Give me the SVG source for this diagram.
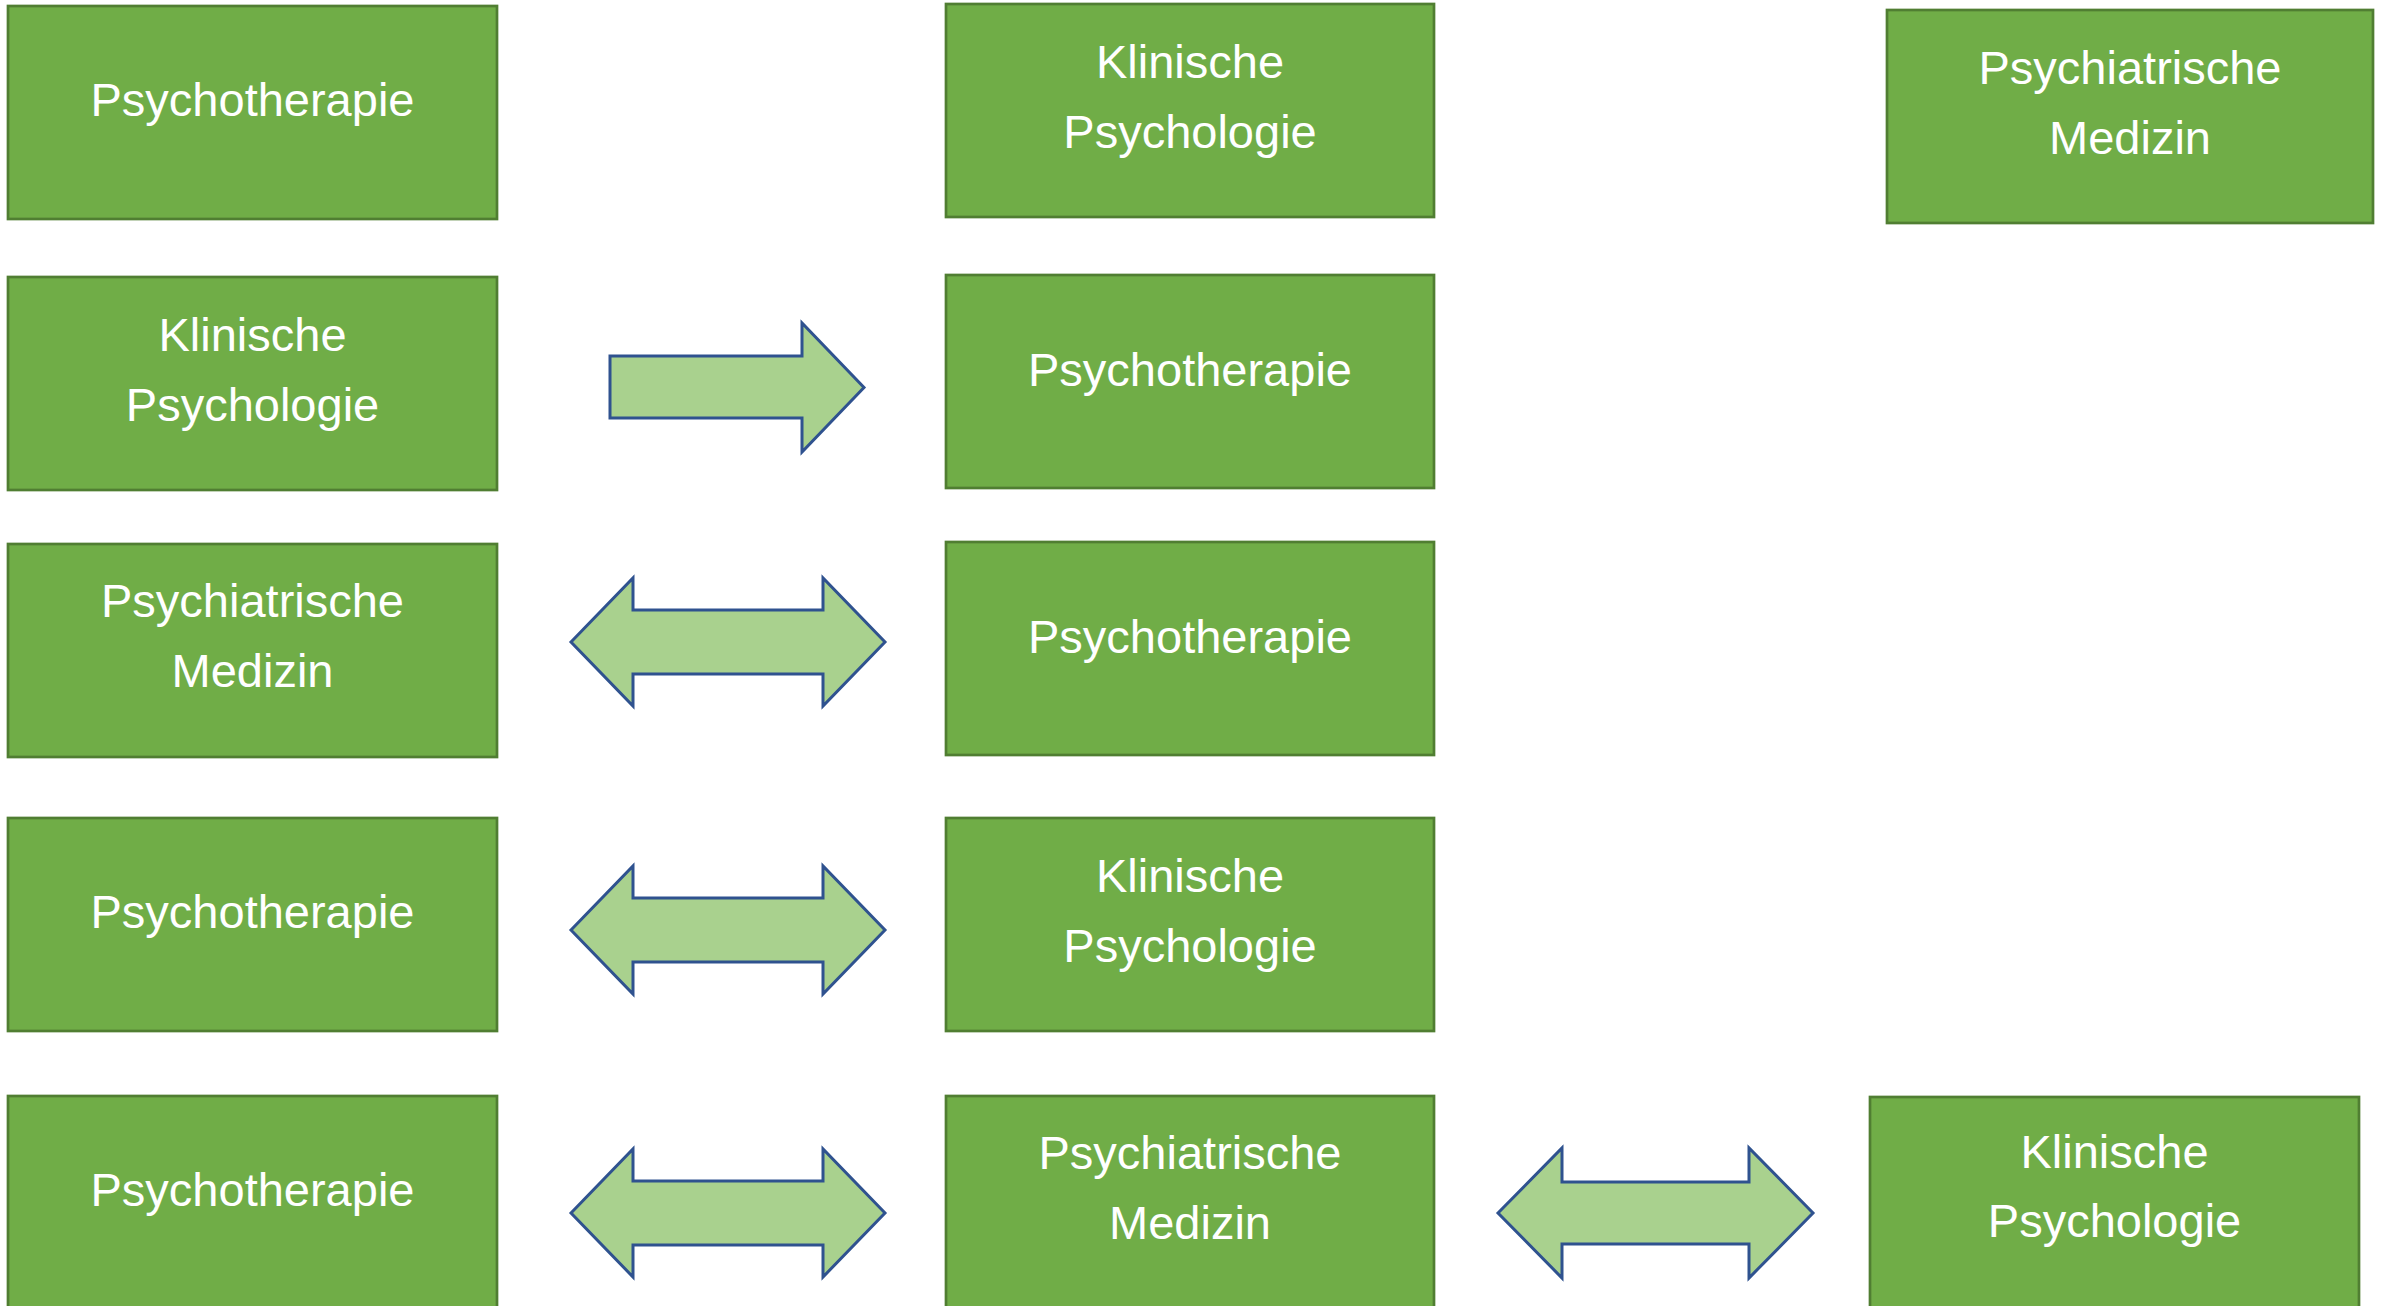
<svg xmlns="http://www.w3.org/2000/svg" width="2386" height="1306" viewBox="0 0 2386 1306">
<style>
.box{fill:#70AD47;stroke:#507E32;stroke-width:2.7}
.lbl{font-family:"Liberation Sans",Arial,sans-serif;font-size:47px;fill:#FFFFFF;text-anchor:middle}
.arr{fill:#A9D18E;stroke:#2F528F;stroke-width:3;stroke-linejoin:miter}
</style>
<rect width="2386" height="1306" fill="#FFFFFF"/>
<g id="connectors">
<polygon class="arr" points="610,356 802,356 802,323 864,387.5 802,452 802,418 610,418"/>
<polygon class="arr" points="571,642 633,578 633,610 823,610 823,578 885,642 823,706 823,674 633,674 633,706"/>
<polygon class="arr" points="571,930 633,866 633,898 823,898 823,866 885,930 823,994 823,962 633,962 633,994"/>
<polygon class="arr" points="571,1213 633,1149 633,1181 823,1181 823,1149 885,1213 823,1277 823,1245 633,1245 633,1277"/>
<polygon class="arr" points="1498,1213 1562,1148 1562,1182 1749,1182 1749,1148 1813,1213 1749,1278 1749,1244 1562,1244 1562,1278"/>
</g>
<g id="n1"><rect class="box" x="8" y="6" width="489" height="213"/><text class="lbl" x="252.5" y="116">Psychotherapie</text></g>
<g id="n2"><rect class="box" x="946" y="4" width="488" height="213"/><text class="lbl" x="1190" y="78">Klinische</text><text class="lbl" x="1190" y="148">Psychologie</text></g>
<g id="n3"><rect class="box" x="1887" y="10" width="486" height="213"/><text class="lbl" x="2130" y="84">Psychiatrische</text><text class="lbl" x="2130" y="154">Medizin</text></g>
<g id="n4"><rect class="box" x="8" y="277" width="489" height="213"/><text class="lbl" x="252.5" y="351">Klinische</text><text class="lbl" x="252.5" y="421">Psychologie</text></g>
<g id="n5"><rect class="box" x="946" y="275" width="488" height="213"/><text class="lbl" x="1190" y="386">Psychotherapie</text></g>
<g id="n6"><rect class="box" x="8" y="544" width="489" height="213"/><text class="lbl" x="252.5" y="617">Psychiatrische</text><text class="lbl" x="252.5" y="687">Medizin</text></g>
<g id="n7"><rect class="box" x="946" y="542" width="488" height="213"/><text class="lbl" x="1190" y="653">Psychotherapie</text></g>
<g id="n8"><rect class="box" x="8" y="818" width="489" height="213"/><text class="lbl" x="252.5" y="928">Psychotherapie</text></g>
<g id="n9"><rect class="box" x="946" y="818" width="488" height="213"/><text class="lbl" x="1190" y="892">Klinische</text><text class="lbl" x="1190" y="962">Psychologie</text></g>
<g id="n10"><rect class="box" x="8" y="1096" width="489" height="213"/><text class="lbl" x="252.5" y="1206">Psychotherapie</text></g>
<g id="n11"><rect class="box" x="946" y="1096" width="488" height="213"/><text class="lbl" x="1190" y="1169">Psychiatrische</text><text class="lbl" x="1190" y="1239">Medizin</text></g>
<g id="n12"><rect class="box" x="1870" y="1097" width="489" height="213"/><text class="lbl" x="2114.5" y="1168">Klinische</text><text class="lbl" x="2114.5" y="1237">Psychologie</text></g>
</svg>
